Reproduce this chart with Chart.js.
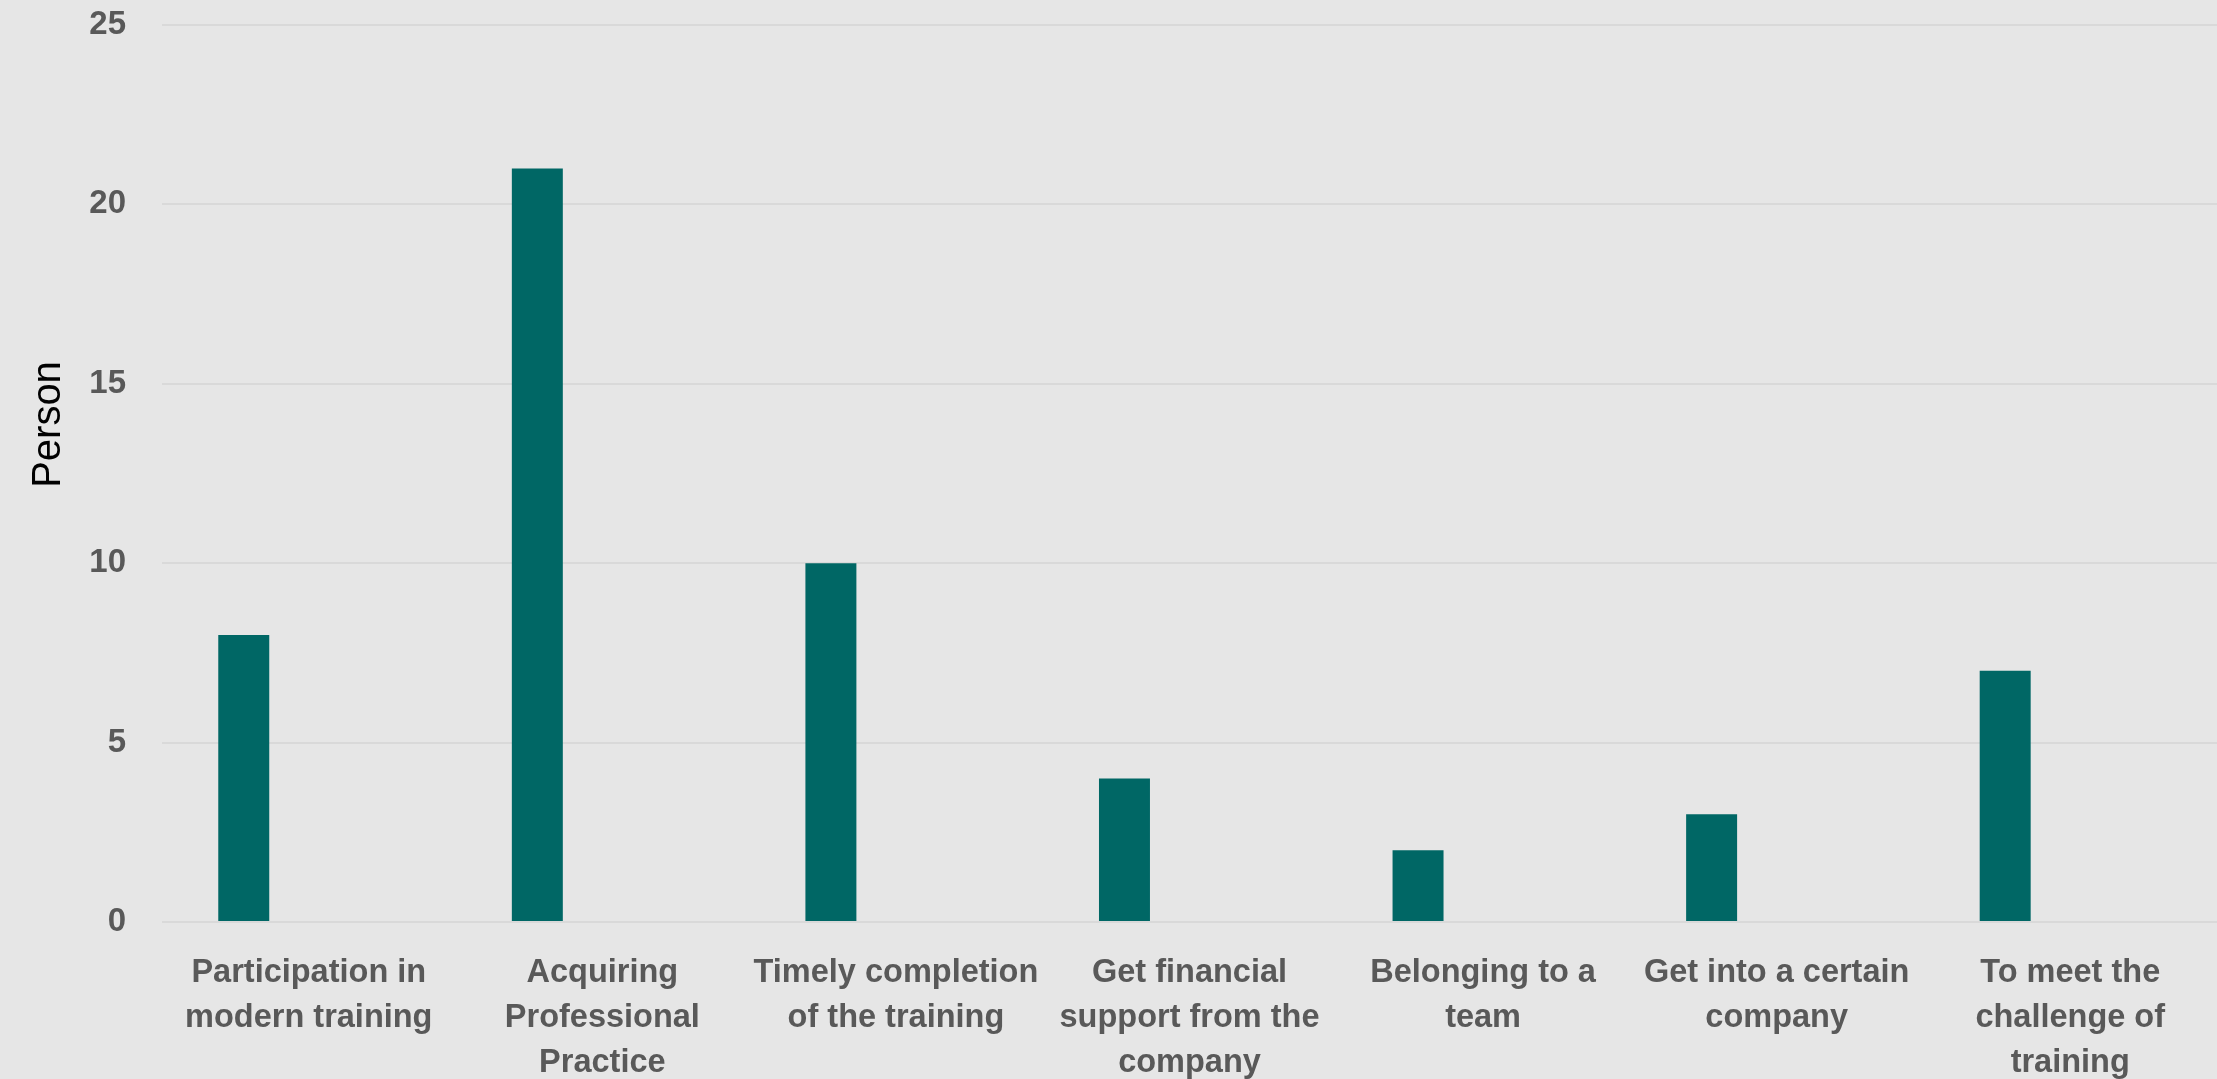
<!DOCTYPE html>
<html>
<head>
<meta charset="utf-8">
<script src="https://cdn.jsdelivr.net/npm/chart.js@4.4.1/dist/chart.umd.min.js"></script>
<style>
  html, body { margin: 0; padding: 0; background: #e6e6e6; }
  #wrap { width: 2217px; height: 1079px; position: relative; }
</style>
</head>
<body>
<div id="wrap"><canvas id="c"></canvas></div>
<script>
const categories = [
  ["Participation in", "modern training"],
  ["Acquiring", "Professional", "Practice"],
  ["Timely completion", "of the training"],
  ["Get financial", "support from the", "company"],
  ["Belonging to a", "team"],
  ["Get into a certain", "company"],
  ["To meet the", "challenge of", "training"]
];
const personCounts = [8, 21, 10, 4, 2, 3, 7];
const emptySeries = [null, null, null, null, null, null, null];
const yTicks = [0, 5, 10, 15, 20, 25];

const tickFont = { family: '"Liberation Sans", Arial, sans-serif', weight: 'bold', size: 33, lineHeight: 1.2 };
const labelFont = { family: '"Liberation Sans", Arial, sans-serif', weight: 'bold', size: 32.5, lineHeight: '45px' };

new Chart(document.getElementById('c'), {
  type: 'bar',
  data: {
    labels: categories,
    datasets: [
      { label: 'Person', data: personCounts, backgroundColor: '#006765', borderWidth: 0,
        categoryPercentage: 0.886, barPercentage: 0.392 },
      { label: 'Series 2', data: emptySeries, backgroundColor: '#006765', borderWidth: 0,
        categoryPercentage: 0.886, barPercentage: 0.392 }
    ]
  },
  options: {
    responsive: true,
    maintainAspectRatio: false,
    animation: false,
    layout: { padding: { top: 25, right: 0, left: 0, bottom: 0 } },
    plugins: { legend: { display: false }, tooltip: { enabled: false } },
    scales: {
      x: {
        grid: { display: false, drawTicks: false },
        border: { display: false },
        ticks: { color: '#595959', font: labelFont, padding: 29, maxRotation: 0, minRotation: 0, autoSkip: false },
        afterFit: (s) => { s.height = 157; }
      },
      y: {
        min: 0, max: 25,
        afterBuildTicks: (s) => { s.ticks = yTicks.map(v => ({ value: v })); },
        grid: { color: '#d9d9d9', lineWidth: 2, drawTicks: true, tickLength: 36, tickColor: 'rgba(0,0,0,0)' },
        border: { display: false },
        ticks: { color: '#595959', font: tickFont, padding: 0 },
        title: { display: true, text: 'Person', color: '#000000',
                 font: { family: '"Liberation Sans", Arial, sans-serif', size: 40, lineHeight: 1.2 }, padding: { top: 25, bottom: 0 } },
        afterFit: (s) => {
          s.width = 162;
          if (!s._titleShifted) {
            const baseDrawTitle = Object.getPrototypeOf(Object.getPrototypeOf(s)).drawTitle
              || Chart.Scale.prototype.drawTitle;
            s.drawTitle = function () {
              const b = this.bottom;
              this.bottom = b - 98;
              baseDrawTitle.call(this);
              this.bottom = b;
            };
            s._titleShifted = true;
          }
        }
      }
    }
  }
});
</script>
</body>
</html>
